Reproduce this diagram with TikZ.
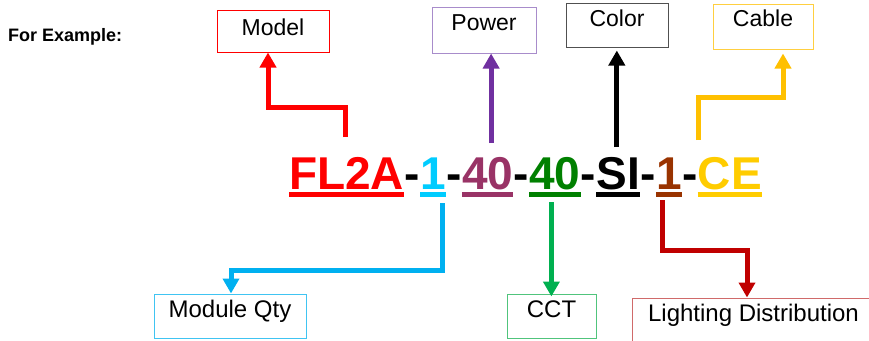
\documentclass[tikz,border=0pt]{standalone}
\usepackage{fontspec}
\setmainfont{Liberation Sans}
\usetikzlibrary{positioning}
\usetikzlibrary{arrows.meta}
\definecolor{codered}{HTML}{FF0000}
\definecolor{codecyan}{HTML}{00CCFF}
\definecolor{codeplum}{HTML}{993366}
\definecolor{codegreen}{HTML}{008000}
\definecolor{codebrown}{HTML}{993300}
\definecolor{codeyellow}{HTML}{FFCC00}
\definecolor{arrowcyan}{HTML}{00B0F0}
\definecolor{arrowpurple}{HTML}{7030A0}
\definecolor{arrowgreen}{HTML}{00B050}
\definecolor{arrowred}{HTML}{C00000}
\definecolor{arrowyellow}{HTML}{FFC000}
\definecolor{boxpurple}{HTML}{A88CCB}
\definecolor{boxgray}{HTML}{505050}
\definecolor{boxyellow}{HTML}{FFCF40}
\definecolor{boxcyan}{HTML}{40C4F2}
\definecolor{boxgreen}{HTML}{50C47C}
\definecolor{boxred}{HTML}{D06A6A}

\begin{document}
\begin{tikzpicture}
		[
			x = 1pt, y = -1pt,
			code/.style = {inner sep = 0pt, font = \fontsize{46}{50}\selectfont\bfseries},
			underline/.style = {line width = 5pt},
			labelbox/.style = {rectangle, draw, line width = 1pt, inner sep = 0pt, font = \fontsize{23}{26}\selectfont},
			lowbox/.style = {labelbox, font = \fontsize{24}{27}\selectfont},
			conn/.style = {line width = 5pt, line join = miter, -{Triangle[width = 16pt, length = 15pt]}},
		]
			%
			\useasboundingbox (0,0) rectangle (869,340);
			\node (example) [anchor = base west, inner sep = 0pt, font = \fontsize{18}{20}\selectfont\bfseries] at (8,41.7) {For Example:};
			%
			\node (fl) [code, text = codered, anchor = base west] at (289,189) {FL2A};
			\node (h1) [code, base right = 0pt of fl] {-};
			\node (qt) [code, text = codecyan, base right = 0pt of h1] {1};
			\node (h2) [code, base right = 0pt of qt] {-};
			\node (pw) [code, text = codeplum, base right = 0pt of h2] {40};
			\node (h3) [code, base right = 0pt of pw] {-};
			\node (ct) [code, text = codegreen, base right = 0pt of h3] {40};
			\node (h4) [code, base right = 0pt of ct] {-};
			\node (si) [code, text = black, base right = 0pt of h4] {SI};
			\node (h5) [code, base right = 0pt of si] {-};
			\node (ld) [code, text = codebrown, base right = 0pt of h5] {1};
			\node (h6) [code, base right = 0pt of ld] {-};
			\node (ce) [code, text = codeyellow, base right = 0pt of h6] {CE};
			%
			\foreach \seg/\col in {fl/codered, qt/codecyan, pw/codeplum, ct/codegreen, si/black, ld/codebrown, ce/codeyellow}
				\draw [underline, \col] ([yshift = -5.5pt]\seg.base west) -- ([yshift = -5.5pt]\seg.base east);
			%
			\node (model) [labelbox, draw = red, minimum width = 112pt, text height = 25pt, text depth = 17pt] at (273,31) {Model};
			\node (power) [labelbox, draw = boxpurple, minimum width = 104pt, text height = 23pt, text depth = 23pt] at (484,30) {Power};
			\node (color) [labelbox, draw = boxgray, minimum width = 102pt, text height = 24pt, text depth = 20pt] at (617,25) {Color};
			\node (cable) [labelbox, draw = boxyellow, minimum width = 100pt, text height = 23pt, text depth = 22pt] at (763,26.5) {Cable};
			\node (qty) [lowbox, draw = boxcyan, minimum width = 152pt, text height = 23pt, text depth = 21pt] at (230,316) {Module Qty};
			\node (cct) [lowbox, draw = boxgreen, minimum width = 89pt, text height = 23pt, text depth = 21pt] at (551.5,316) {CCT};
			\node (light) [lowbox, draw = boxred, minimum width = 243pt, text height = 23pt, text depth = 24pt] at (753.5,321.5) {Lighting Distribution};
			%
			\draw [conn, red] ([xshift = -1.5pt, yshift = 52pt]fl.base) -- ++(0,-30) -| ([xshift = -5pt]model.south);
			\draw [conn, arrowpurple] ([xshift = 3.5pt, yshift = 46pt]pw.base) coordinate (pwstart) -- (pwstart |- power.south);
			\draw [conn, black] ([xshift = -1.5pt, yshift = 42pt]si.base) coordinate (sistart) -- ([yshift = -3pt]sistart |- color.south);
			\draw [conn, arrowyellow] ([xshift = 1pt, yshift = 49pt]ce.base west) -- ++(0,-43) -| ([xshift = 20pt, yshift = -4pt]cable.south);
			\draw [conn, arrowcyan] ([xshift = 9pt, yshift = -14pt]qt.base) -- ++(0,67) -| ([xshift = 1pt]qty.north);
			\draw [conn, arrowgreen] ([xshift = -3.5pt, yshift = -13pt]ct.base) coordinate (ctstart) -- ([yshift = -3pt]ctstart |- cct.north);
			\draw [conn, arrowred] ([xshift = -6pt, yshift = -11pt]ld.base) -- ++(0,50) -| ([xshift = -6.5pt]light.north);
			%
		\end{tikzpicture}
\end{document}
